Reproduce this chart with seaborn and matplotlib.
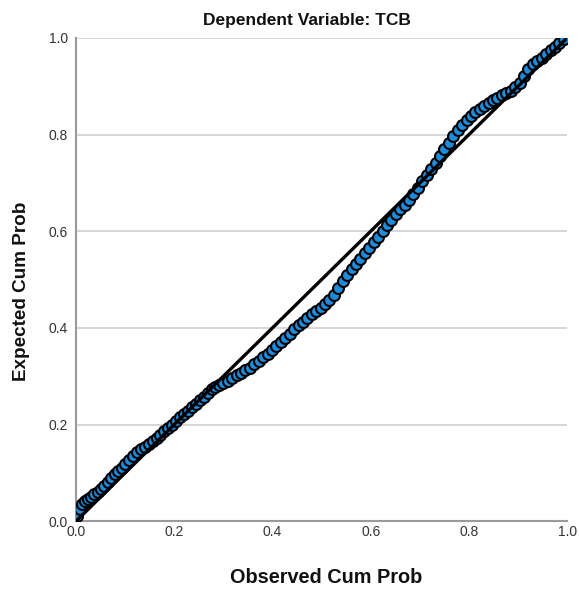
import matplotlib
matplotlib.use("Agg")
import matplotlib.pyplot as plt
import seaborn as sns
import pandas as pd

title = "Dependent Variable: TCB"
x_label = "Observed Cum Prob"
y_label = "Expected Cum Prob"
ticks = [0.0, 0.2, 0.4, 0.6, 0.8, 1.0]
tick_labels = ["0.0", "0.2", "0.4", "0.6", "0.8", "1.0"]
ref_line = [0.0, 1.0]

observed = [0.003, 0.008, 0.013, 0.018, 0.024, 0.030, 0.037, 0.044, 0.051, 0.058,
            0.065, 0.072, 0.079, 0.086, 0.093, 0.100, 0.108, 0.116, 0.124, 0.132,
            0.140, 0.148, 0.156, 0.164, 0.172, 0.180, 0.188, 0.196, 0.204, 0.212,
            0.220, 0.228, 0.236, 0.244, 0.252, 0.260, 0.268, 0.276, 0.284, 0.292,
            0.300, 0.309, 0.318, 0.327, 0.336, 0.345, 0.354, 0.363, 0.372, 0.381,
            0.390, 0.399, 0.408, 0.417, 0.426, 0.435, 0.444, 0.453, 0.462, 0.471,
            0.480, 0.489, 0.498, 0.507, 0.516, 0.525, 0.534, 0.543, 0.552, 0.561,
            0.570, 0.579, 0.588, 0.597, 0.606, 0.615, 0.624, 0.633, 0.642, 0.651,
            0.660, 0.669, 0.678, 0.687, 0.696, 0.705, 0.714, 0.723, 0.732, 0.741,
            0.750, 0.759, 0.768, 0.777, 0.786, 0.795, 0.804, 0.813, 0.822, 0.831,
            0.840, 0.849, 0.858, 0.867, 0.876, 0.885, 0.894, 0.903, 0.912, 0.921,
            0.930, 0.939, 0.948, 0.957, 0.966, 0.975, 0.984, 0.993]
expected = [0.010, 0.026, 0.036, 0.042, 0.047, 0.051, 0.056, 0.061, 0.067, 0.073,
            0.081, 0.089, 0.097, 0.104, 0.111, 0.118, 0.127, 0.136, 0.143, 0.149,
            0.154, 0.160, 0.167, 0.173, 0.179, 0.186, 0.193, 0.200, 0.208, 0.215,
            0.222, 0.229, 0.236, 0.243, 0.250, 0.258, 0.266, 0.273, 0.277, 0.281,
            0.286, 0.291, 0.297, 0.302, 0.307, 0.312, 0.318, 0.325, 0.332, 0.339,
            0.346, 0.354, 0.362, 0.371, 0.380, 0.388, 0.397, 0.405, 0.413, 0.421,
            0.428, 0.435, 0.442, 0.449, 0.458, 0.469, 0.482, 0.496, 0.510, 0.522,
            0.532, 0.543, 0.555, 0.566, 0.577, 0.588, 0.600, 0.612, 0.624, 0.635,
            0.645, 0.655, 0.664, 0.676, 0.690, 0.704, 0.716, 0.728, 0.741, 0.755,
            0.770, 0.783, 0.796, 0.809, 0.820, 0.830, 0.839, 0.847, 0.853, 0.859,
            0.865, 0.871, 0.876, 0.881, 0.886, 0.891, 0.898, 0.906, 0.920, 0.935,
            0.945, 0.952, 0.959, 0.966, 0.974, 0.982, 0.990, 0.998]

df = pd.DataFrame({"obs": observed, "exp": expected})
ref = pd.DataFrame({"x": ref_line, "y": ref_line})

sns.set_theme(style="white")
plt.rcParams["font.family"] = ["Liberation Sans", "DejaVu Sans"]

fig = plt.figure(figsize=(5.8, 5.91), dpi=100)
ax = fig.add_axes([0.131, 0.118, 0.847, 0.818])

sns.scatterplot(data=df, x="obs", y="exp", ax=ax, s=62, color="#1e8cdc",
                edgecolor="black", linewidth=1.5, zorder=3, legend=False)
sns.lineplot(data=ref, x="x", y="y", ax=ax, color="black", linewidth=2.4,
             zorder=4, legend=False)

ax.set_xlim(0, 1)
ax.set_ylim(0, 1)
ax.set_xticks(ticks)
ax.set_xticklabels(tick_labels)
ax.set_yticks(ticks)
ax.set_yticklabels(tick_labels)
ax.yaxis.grid(True, color="#cfcfcf", linewidth=1.2)
ax.xaxis.grid(False)
ax.set_axisbelow(True)
for side in ["top", "right"]:
    ax.spines[side].set_visible(False)
for side in ["left", "bottom"]:
    ax.spines[side].set_color("#9a9a9a")
    ax.spines[side].set_linewidth(1.5)
ax.tick_params(axis="both", which="both", labelsize=10, colors="#9a9a9a",
               labelcolor="#333333", length=4, width=1, direction="out", pad=2)
ax.tick_params(axis="x", length=0, pad=3)

fig.text(307 / 580, 1 - 21 / 591, title, fontsize=12.5, fontweight="bold",
         color="#111111", ha="center", va="center")
ax.set_xlabel(x_label, fontsize=14.3, fontweight="bold", color="#111111")
ax.set_ylabel(y_label, fontsize=13.6, fontweight="bold", color="#111111")
ax.xaxis.set_label_coords(0.51, -0.116)
ax.yaxis.set_label_coords(-0.110, 0.476)
ax.xaxis.label.set_va("center")
ax.yaxis.label.set_va("center")

fig.savefig("out.png", dpi=100)
